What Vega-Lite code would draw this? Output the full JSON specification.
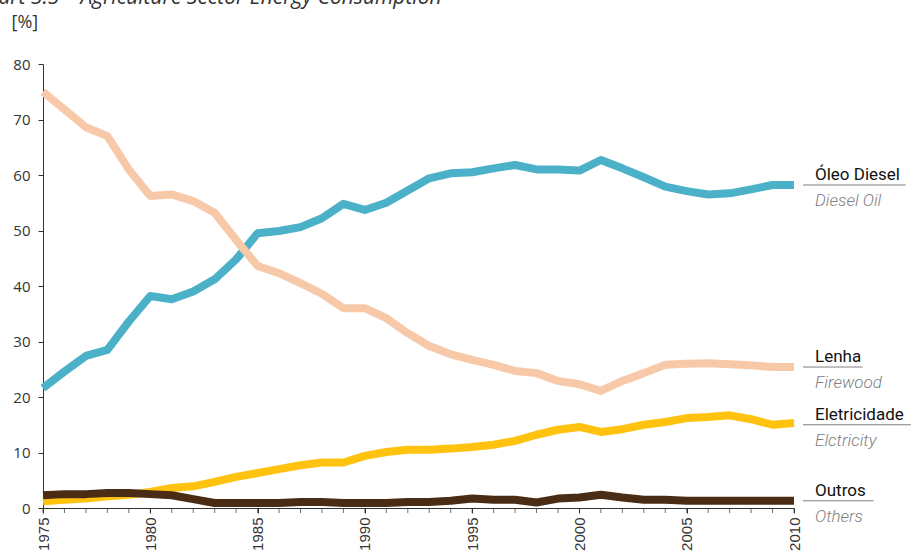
{
  "$schema": "https://vega.github.io/schema/vega-lite/v6.json",
  "width": 751,
  "height": 444,
  "autosize": {"type": "none"},
  "padding": {"left": 43, "top": 64, "right": 121, "bottom": 50},
  "background": "white",
  "title": {
    "text": "Chart 3.5 – Agriculture Sector Energy Consumption",
    "anchor": "start",
    "frame": "group",
    "font": "Open Sans",
    "fontStyle": "italic",
    "fontWeight": "normal",
    "fontSize": 21,
    "color": "#333333",
    "baseline": "alphabetic",
    "offset": 0,
    "dx": -69,
    "dy": 12
  },
  "config": {
    "view": {"stroke": null},
    "axis": {"grid": false}
  },
  "datasets": {
    "main": [
      {"year": 1975, "diesel": 21.6, "firewood": 75.0, "electricity": 1.2, "others": 2.3},
      {"year": 1976, "diesel": 24.6, "firewood": 71.8, "electricity": 1.5, "others": 2.5},
      {"year": 1977, "diesel": 27.4, "firewood": 68.6, "electricity": 1.7, "others": 2.5},
      {"year": 1978, "diesel": 28.5, "firewood": 67.0, "electricity": 2.1, "others": 2.7},
      {"year": 1979, "diesel": 33.6, "firewood": 61.0, "electricity": 2.4, "others": 2.7},
      {"year": 1980, "diesel": 38.2, "firewood": 56.2, "electricity": 2.9, "others": 2.5},
      {"year": 1981, "diesel": 37.6, "firewood": 56.5, "electricity": 3.6, "others": 2.3},
      {"year": 1982, "diesel": 39.0, "firewood": 55.3, "electricity": 3.9, "others": 1.6},
      {"year": 1983, "diesel": 41.2, "firewood": 53.2, "electricity": 4.7, "others": 0.9},
      {"year": 1984, "diesel": 44.8, "firewood": 48.3, "electricity": 5.6, "others": 0.9},
      {"year": 1985, "diesel": 49.5, "firewood": 43.6, "electricity": 6.3, "others": 0.9},
      {"year": 1986, "diesel": 49.9, "firewood": 42.3, "electricity": 7.0, "others": 0.9},
      {"year": 1987, "diesel": 50.6, "firewood": 40.5, "electricity": 7.7, "others": 1.1},
      {"year": 1988, "diesel": 52.2, "firewood": 38.6, "electricity": 8.2, "others": 1.1},
      {"year": 1989, "diesel": 54.8, "firewood": 36.0, "electricity": 8.2, "others": 0.9},
      {"year": 1990, "diesel": 53.7, "firewood": 36.0, "electricity": 9.4, "others": 0.9},
      {"year": 1991, "diesel": 55.0, "firewood": 34.2, "electricity": 10.1, "others": 0.9},
      {"year": 1992, "diesel": 57.2, "firewood": 31.5, "electricity": 10.5, "others": 1.1},
      {"year": 1993, "diesel": 59.4, "firewood": 29.2, "electricity": 10.5, "others": 1.1},
      {"year": 1994, "diesel": 60.3, "firewood": 27.7, "electricity": 10.7, "others": 1.3},
      {"year": 1995, "diesel": 60.5, "firewood": 26.7, "electricity": 11.0, "others": 1.7},
      {"year": 1996, "diesel": 61.2, "firewood": 25.8, "electricity": 11.4, "others": 1.5},
      {"year": 1997, "diesel": 61.8, "firewood": 24.7, "electricity": 12.1, "others": 1.5},
      {"year": 1998, "diesel": 61.0, "firewood": 24.3, "electricity": 13.2, "others": 1.0},
      {"year": 1999, "diesel": 61.0, "firewood": 22.9, "electricity": 14.1, "others": 1.7},
      {"year": 2000, "diesel": 60.8, "firewood": 22.3, "electricity": 14.6, "others": 1.9},
      {"year": 2001, "diesel": 62.7, "firewood": 21.1, "electricity": 13.7, "others": 2.4},
      {"year": 2002, "diesel": 61.2, "firewood": 22.9, "electricity": 14.2, "others": 1.9},
      {"year": 2003, "diesel": 59.6, "firewood": 24.3, "electricity": 15.0, "others": 1.5},
      {"year": 2004, "diesel": 57.9, "firewood": 25.8, "electricity": 15.5, "others": 1.5},
      {"year": 2005, "diesel": 57.1, "firewood": 26.0, "electricity": 16.2, "others": 1.3},
      {"year": 2006, "diesel": 56.5, "firewood": 26.1, "electricity": 16.4, "others": 1.3},
      {"year": 2007, "diesel": 56.7, "firewood": 25.9, "electricity": 16.7, "others": 1.3},
      {"year": 2008, "diesel": 57.4, "firewood": 25.7, "electricity": 16.0, "others": 1.3},
      {"year": 2009, "diesel": 58.2, "firewood": 25.4, "electricity": 15.0, "others": 1.3},
      {"year": 2010, "diesel": 58.2, "firewood": 25.4, "electricity": 15.3, "others": 1.3}
    ],
    "labels": [
      {"series": "diesel", "pt": "Óleo Diesel", "en": "Diesel Oil", "value": 58.2, "lineEnd": 2015.2},
      {"series": "firewood", "pt": "Lenha", "en": "Firewood", "value": 25.4, "lineEnd": 2013.2},
      {"series": "electricity", "pt": "Eletricidade", "en": "Elctricity", "value": 15.0, "lineEnd": 2015.45},
      {"series": "others", "pt": "Outros", "en": "Others", "value": 1.3, "lineEnd": 2013.7}
    ]
  },
  "layer": [
    {
      "data": {"name": "main"},
      "mark": {"type": "tick", "orient": "vertical", "size": 5, "thickness": 1, "color": "#333333", "yOffset": 2.5, "clip": false},
      "encoding": {
        "x": {"field": "year", "type": "quantitative"},
        "y": {"datum": 0, "type": "quantitative"}
      }
    },
    {
      "data": {"name": "main"},
      "transform": [
        {"fold": ["diesel", "firewood", "electricity", "others"], "as": ["series", "value"]}
      ],
      "mark": {"type": "line", "strokeWidth": 8, "strokeCap": "butt", "strokeJoin": "round"},
      "encoding": {
        "x": {
          "field": "year",
          "type": "quantitative",
          "scale": {"domain": [1975, 2010], "nice": false, "zero": false},
          "axis": {
            "title": null,
            "values": [1975, 1980, 1985, 1990, 1995, 2000, 2005, 2010],
            "labelAngle": -90,
            "labelAlign": "right",
            "labelBaseline": "middle",
            "labelFont": "Liberation Sans",
            "labelFontSize": 15,
            "labelColor": "#333333",
            "labelPadding": 4,
            "labelOverlap": false,
            "labelFlush": false,
            "tickSize": 5,
            "tickColor": "#333333",
            "domainColor": "#333333",
            "format": "d"
          }
        },
        "y": {
          "field": "value",
          "type": "quantitative",
          "scale": {"domain": [0, 80], "nice": false},
          "axis": {
            "values": [0, 10, 20, 30, 40, 50, 60, 70, 80],
            "title": "[%]",
            "titleAngle": 0,
            "titleAlign": "left",
            "titleBaseline": "alphabetic",
            "titleX": -32,
            "titleY": -37,
            "titleFont": "Open Sans",
            "titleFontSize": 18,
            "titleFontWeight": "normal",
            "titleColor": "#333333",
            "labelFont": "Open Sans",
            "labelFontSize": 15,
            "labelColor": "#333333",
            "labelPadding": 8,
            "tickSize": 5,
            "tickColor": "#333333",
            "domainColor": "#333333"
          }
        },
        "color": {
          "field": "series",
          "type": "nominal",
          "scale": {
            "domain": ["diesel", "firewood", "electricity", "others"],
            "range": ["#4BB1C8", "#F8C9A9", "#FFC20E", "#4A2C14"]
          },
          "legend": null
        }
      }
    },
    {
      "data": {"name": "labels"},
      "mark": {"type": "rule", "color": "#808080", "strokeWidth": 1, "x2Offset": 9, "clip": false},
      "encoding": {
        "x": {"field": "lineEnd", "type": "quantitative"},
        "x2": {"datum": 2010},
        "y": {"field": "value", "type": "quantitative"}
      }
    },
    {
      "data": {"name": "labels"},
      "mark": {"type": "text", "align": "left", "baseline": "alphabetic", "dx": 21, "dy": -5, "font": "Roboto", "fontWeight": 400, "fontSize": 17, "color": "#111111", "clip": false},
      "encoding": {
        "x": {"datum": 2010, "type": "quantitative"},
        "y": {"field": "value", "type": "quantitative"},
        "text": {"field": "pt"}
      }
    },
    {
      "data": {"name": "labels"},
      "mark": {"type": "text", "align": "left", "baseline": "alphabetic", "dx": 21, "dy": 21, "font": "Roboto", "fontWeight": 300, "fontSize": 17, "fontStyle": "italic", "color": "#808080", "clip": false},
      "encoding": {
        "x": {"datum": 2010, "type": "quantitative"},
        "y": {"field": "value", "type": "quantitative"},
        "text": {"field": "en"}
      }
    }
  ]
}
